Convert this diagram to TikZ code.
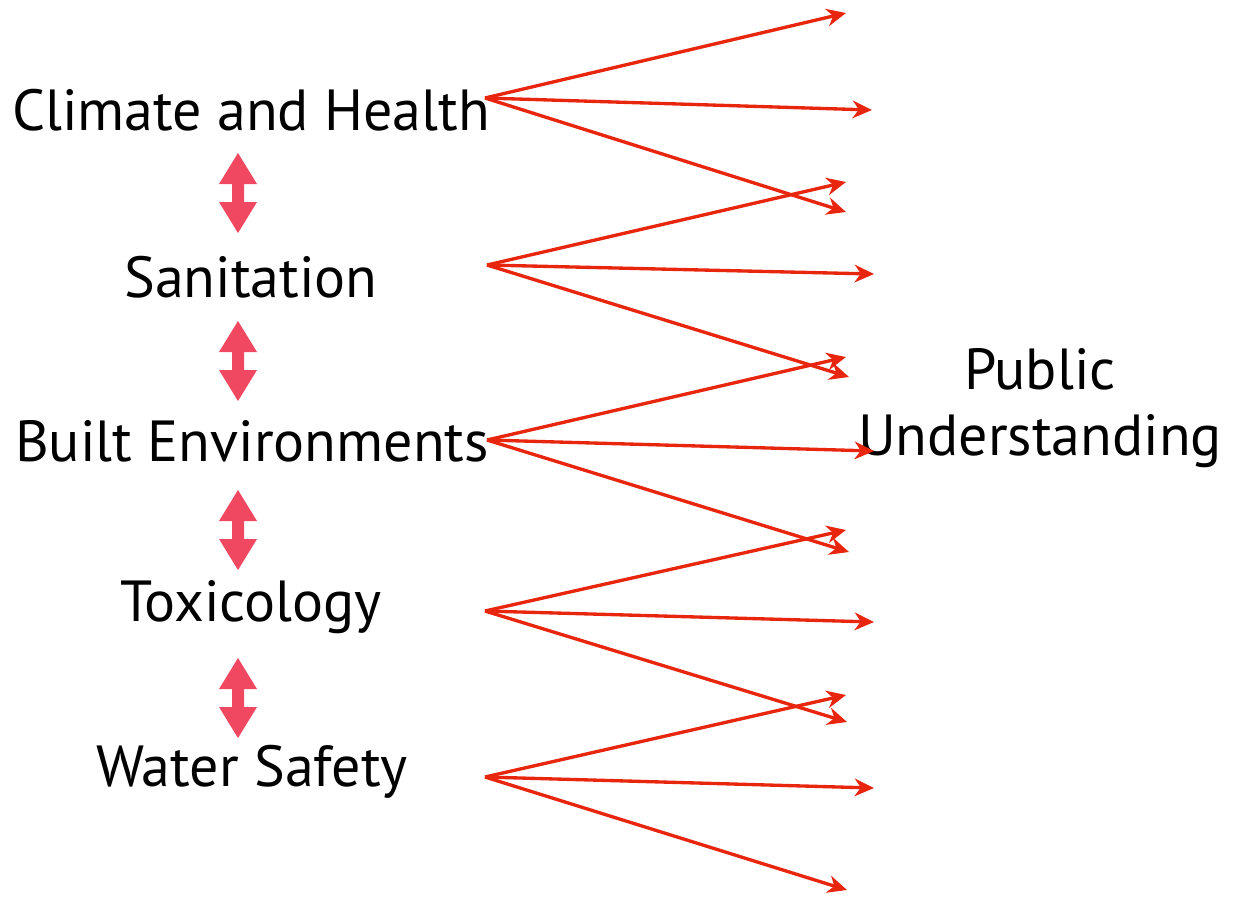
\documentclass[tikz,border=0pt]{standalone}
\usepackage{fontspec}
\setmainfont{PT Sans}
\usetikzlibrary{arrows.meta}
\definecolor{linkred}{RGB}{232,38,14}
\definecolor{twowaypink}{RGB}{240,72,96}
\tikzset{
  field/.style={font=\fontsize{33}{40}\selectfont, inner sep=0pt},
  link/.style={linkred, line width=1.9pt, -{Stealth[length=11pt,width=10pt,inset=3.5pt]}},
  twoway/.style={fill=twowaypink}
}
\begin{document}
\begin{tikzpicture}[x=0.02cm,y=-0.02cm]
    \useasboundingbox (0,0) rectangle (1233,897);

    % Fields
    \node[field] (climate) at (251,110) {Climate and Health};
    \node[field] (sanit) at (251,277) {Sanitation};
    \node[field] (built) at (252,441) {Built Environments};
    \node[field] (toxic) at (251,607) {Toxicology};
    \node[field] (water) at (252,772) {Water Safety};
    \node[field, align=center] (public) at (1040,408) {Public\\[-2pt]Understanding};

    % Two-way links between fields
    \fill[twoway, shift={(238,153)}] (0,0) -- (19,31) -- (6,31) -- (6,49) -- (19,49) -- (0,80) -- (-19,49) -- (-6,49) -- (-6,31) -- (-19,31) -- cycle;
    \fill[twoway, shift={(238,321)}] (0,0) -- (19,31) -- (6,31) -- (6,49) -- (19,49) -- (0,80) -- (-19,49) -- (-6,49) -- (-6,31) -- (-19,31) -- cycle;
    \fill[twoway, shift={(238,490)}] (0,0) -- (19,31) -- (6,31) -- (6,49) -- (19,49) -- (0,80) -- (-19,49) -- (-6,49) -- (-6,31) -- (-19,31) -- cycle;
    \fill[twoway, shift={(238,658)}] (0,0) -- (19,31) -- (6,31) -- (6,49) -- (19,49) -- (0,80) -- (-19,49) -- (-6,49) -- (-6,31) -- (-19,31) -- cycle;

    % Sources
    \coordinate (s1) at (485,98);
    \coordinate (s2) at (487,265);
    \coordinate (s3) at (487,440);
    \coordinate (s4) at (485,611);
    \coordinate (s5) at (485,777);

    % Targets
    \coordinate (t1a) at (846,13);
    \coordinate (t1b) at (872,110);
    \coordinate (t1c) at (846,212);
    \coordinate (t2a) at (846,182);
    \coordinate (t2b) at (874,274);
    \coordinate (t2c) at (849,377);
    \coordinate (t3a) at (846,357);
    \coordinate (t3b) at (874,451);
    \coordinate (t3c) at (849,552);
    \coordinate (t4a) at (846,530);
    \coordinate (t4b) at (874,622);
    \coordinate (t4c) at (847,722);
    \coordinate (t5a) at (846,695);
    \coordinate (t5b) at (874,788);
    \coordinate (t5c) at (847,890);

    % Links to public understanding
    \draw[link] (s1) -- (t1a);
    \draw[link] (s1) -- (t1b);
    \draw[link] (s1) -- (t1c);
    \draw[link] (s2) -- (t2a);
    \draw[link] (s2) -- (t2b);
    \draw[link] (s2) -- (t2c);
    \draw[link] (s3) -- (t3a);
    \draw[link] (s3) -- (t3b);
    \draw[link] (s3) -- (t3c);
    \draw[link] (s4) -- (t4a);
    \draw[link] (s4) -- (t4b);
    \draw[link] (s4) -- (t4c);
    \draw[link] (s5) -- (t5a);
    \draw[link] (s5) -- (t5b);
    \draw[link] (s5) -- (t5c);
\end{tikzpicture}
\end{document}
